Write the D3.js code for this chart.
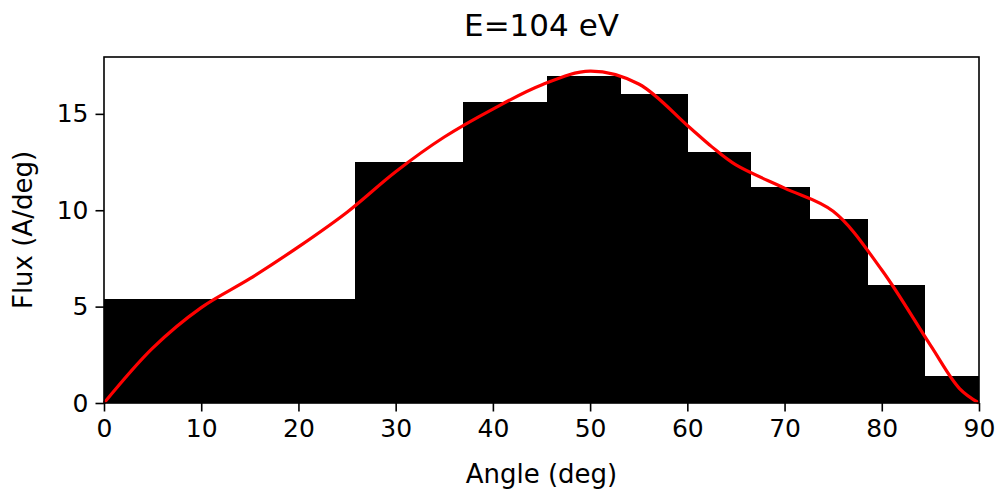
<!DOCTYPE html>
<html>
<head>
<meta charset="utf-8">
<script src="https://cdn.jsdelivr.net/npm/d3@7"></script>
<style>
  body { margin: 0; background: #fff; }
  svg { display: block; font-family: "DejaVu Sans", sans-serif; }
</style>
</head>
<body>
<svg id="chart"></svg>
<script>
// histogram bin edges (deg) and bar heights (A/deg)
const binEdges = [0, 25.8, 36.9, 45.6, 53.1, 60, 66.4, 72.5, 78.5, 84.3, 90];
const binFlux = [5.40, 12.51, 15.62, 16.97, 16.04, 13.03, 11.21, 9.55, 6.12, 1.40];

// smooth fit curve (red)
const curveAngle = [0, 5, 10, 15, 20, 25, 30, 35, 40, 45, 50, 55, 60, 62.5, 65, 70, 75, 80, 85, 88, 90];
const curveFlux = [0, 2.85, 4.95, 6.45, 8.1, 9.9, 12.0, 13.8, 15.25, 16.5, 17.22, 16.55, 14.4, 13.3, 12.35, 11.15, 9.95, 6.9, 3.0, 0.75, 0];

const xTicks = [0, 10, 20, 30, 40, 50, 60, 70, 80, 90];
const yTicks = [0, 5, 10, 15];

const width = 997, height = 491;
const margin = {top: 57, right: 18, bottom: 88, left: 104};

const svg = d3.select("#chart")
    .attr("width", width)
    .attr("height", height);

const x = d3.scaleLinear().domain([0, 90]).range([margin.left, width - margin.right]);
const y = d3.scaleLinear().domain([0, 17.95]).range([height - margin.bottom, margin.top]);

// bars
const bins = binFlux.map((v, i) => ({x0: binEdges[i], x1: binEdges[i + 1], v: v}));
svg.append("g")
    .attr("shape-rendering", "crispEdges")
    .selectAll("rect")
    .data(bins)
    .enter()
    .append("rect")
    .attr("x", d => x(d.x0))
    .attr("width", (d, i) => x(d.x1) - x(d.x0) + (i < bins.length - 1 ? 1 : 0))
    .attr("y", d => y(d.v))
    .attr("height", d => y(0) - y(d.v))
    .attr("fill", "#000");

// fit line
const pts = curveAngle.map((a, i) => [a, curveFlux[i]]);
svg.append("path")
    .datum(pts)
    .attr("fill", "none")
    .attr("stroke", "#ff0000")
    .attr("stroke-width", 3.2)
    .attr("d", d3.line()
        .x(d => x(d[0]))
        .y(d => y(d[1]))
        .curve(d3.curveCatmullRom.alpha(0.5)));

// axes
const xAxis = svg.append("g")
    .attr("transform", `translate(0,${height - margin.bottom})`)
    .call(d3.axisBottom(x).tickValues(xTicks).tickSize(8.5).tickPadding(8).tickFormat(d3.format("d")));

const yAxis = svg.append("g")
    .attr("transform", `translate(${margin.left},0)`)
    .call(d3.axisLeft(y).tickValues(yTicks).tickSize(8.5).tickPadding(7).tickFormat(d3.format("d")));

[xAxis, yAxis].forEach(g => {
    g.select(".domain").remove();
    g.selectAll(".tick line").attr("stroke", "#000").attr("stroke-width", 1.6);
    g.selectAll(".tick text")
        .attr("fill", "#000")
        .style("font-size", "25px")
        .style("font-family", "DejaVu Sans, sans-serif");
});

// frame
svg.append("rect")
    .attr("x", margin.left)
    .attr("y", margin.top)
    .attr("width", width - margin.left - margin.right)
    .attr("height", height - margin.top - margin.bottom)
    .attr("fill", "none")
    .attr("stroke", "#000")
    .attr("stroke-width", 1.6);

// labels
svg.append("text")
    .attr("x", (margin.left + width - margin.right) / 2)
    .attr("y", 483)
    .attr("text-anchor", "middle")
    .style("font-size", "26px")
    .text("Angle (deg)");

svg.append("text")
    .attr("transform", `translate(32,${(margin.top + height - margin.bottom) / 2}) rotate(-90)`)
    .attr("text-anchor", "middle")
    .style("font-size", "26px")
    .text("Flux (A/deg)");

svg.append("text")
    .attr("x", (margin.left + width - margin.right) / 2)
    .attr("y", 36)
    .attr("text-anchor", "middle")
    .style("font-size", "31px")
    .text("E=104 eV");
</script>
</body>
</html>
